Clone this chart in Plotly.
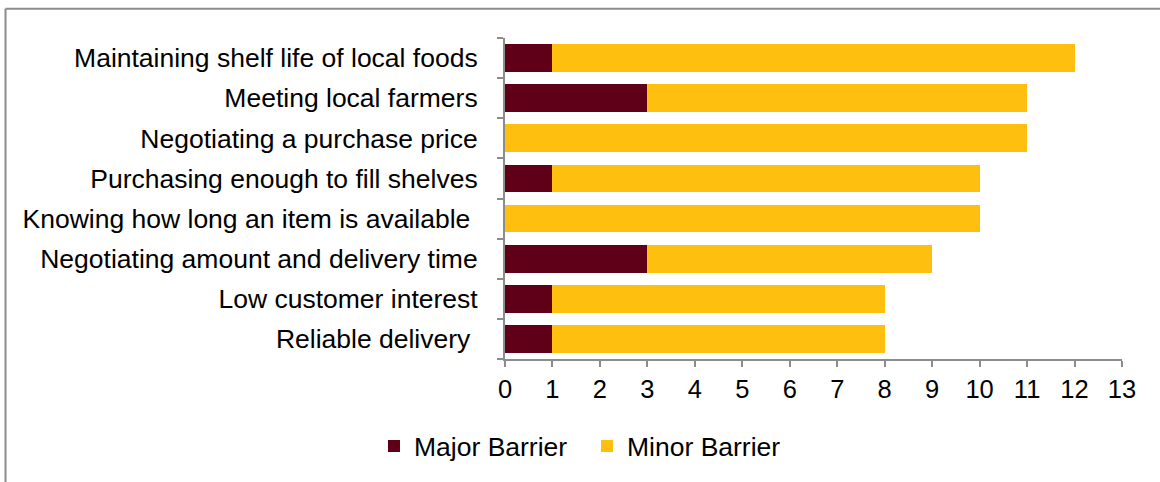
import plotly.graph_objects as go

# Barriers to sourcing local foods, listed bottom-to-top for the y axis
categories = [
    "Reliable delivery\u00a0",
    "Low customer interest",
    "Negotiating amount and delivery time",
    "Knowing how long an item is available\u00a0",
    "Purchasing enough to fill shelves",
    "Negotiating a purchase price",
    "Meeting local farmers",
    "Maintaining shelf life of local foods",
]
major_barrier = [1, 1, 3, 0, 1, 0, 3, 1]
minor_barrier = [7, 7, 6, 10, 9, 11, 8, 11]
x_ticks = list(range(0, 14))

MAROON = "#600018"
GOLD = "#FFBF0F"
AXIS_GREY = "#8C8C8C"
FONT = "Liberation Sans, Arial, sans-serif"
LABEL_SIZE = 26.5
TICK_SIZE = 25.5

fig = go.Figure()
fig.add_trace(go.Bar(
    y=categories, x=major_barrier, name="Major Barrier", orientation="h",
    marker=dict(color=MAROON, line=dict(width=0)),
))
fig.add_trace(go.Bar(
    y=categories, x=minor_barrier, name="Minor Barrier", orientation="h",
    marker=dict(color=GOLD, line=dict(width=0)),
))

# Plot area geometry in pixels, used to place the frame lines in paper units
L, R, T, B = 505, 1122, 38, 362
W, H = R - L, B - T


def px_x(p):
    return (p - L) / W


def px_y(p):
    return (B - p) / H


fig.update_layout(
    barmode="stack",
    bargap=0.31,
    width=1160,
    height=482,
    margin=dict(l=L, r=1160 - R, t=T, b=482 - B, pad=0),
    paper_bgcolor="white",
    plot_bgcolor="white",
    font=dict(family=FONT, size=LABEL_SIZE, color="#000000"),
    showlegend=True,
    legend=dict(
        orientation="h",
        x=px_x(374), xanchor="left",
        y=px_y(450), yanchor="middle",
        font=dict(family=FONT, size=LABEL_SIZE, color="#000000"),
        traceorder="normal",
        itemwidth=30,
        entrywidth=168,
        entrywidthmode="pixels",
        bgcolor="rgba(0,0,0,0)",
    ),
    xaxis=dict(
        range=[0, 13],
        tickvals=x_ticks,
        ticktext=[str(v) for v in x_ticks],
        ticks="outside", ticklen=6, tickwidth=2, tickcolor=AXIS_GREY,
        showline=True, linecolor=AXIS_GREY, linewidth=2,
        showgrid=False, zeroline=False,
        tickfont=dict(family=FONT, size=TICK_SIZE, color="#000000"),
        fixedrange=True,
    ),
    yaxis=dict(
        type="category",
        categoryorder="array", categoryarray=categories,
        ticks="outside", ticklen=6, tickwidth=2, tickcolor=AXIS_GREY,
        tickson="boundaries",
        showline=True, linecolor=AXIS_GREY, linewidth=2,
        showgrid=False, zeroline=False,
        ticklabelstandoff=20,
        tickfont=dict(family=FONT, size=LABEL_SIZE, color="#000000"),
        fixedrange=True,
    ),
    shapes=[
        # outer frame: top and left edges
        dict(type="line", xref="paper", yref="paper",
             x0=px_x(5.5), x1=px_x(1170), y0=px_y(8.5), y1=px_y(8.5),
             line=dict(color=AXIS_GREY, width=2)),
        dict(type="line", xref="paper", yref="paper",
             x0=px_x(5.5), x1=px_x(5.5), y0=px_y(8.5), y1=px_y(495),
             line=dict(color=AXIS_GREY, width=2)),
    ],
)

fig.write_html("out.html")
